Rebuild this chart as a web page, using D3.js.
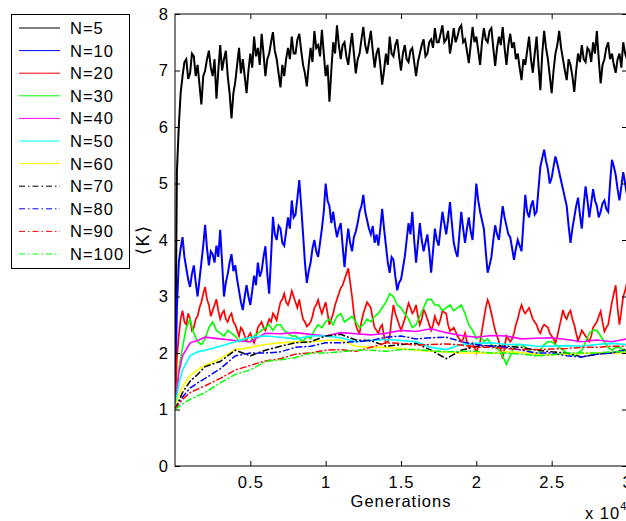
<!DOCTYPE html>
<html>
<head>
<meta charset="utf-8">
<script src="https://cdn.jsdelivr.net/npm/d3@7"></script>
<style>
  body { margin: 0; background: #fff; }
  text { font-family: "Liberation Sans", Arial, Helvetica, sans-serif; letter-spacing: 1px; }
</style>
</head>
<body>
<script>
// sample grids (generations): noisy runs every 125 / 250, smooth runs coarser
const genDense = d3.range(0, 30001, 125);
const genFine = d3.range(0, 30001, 250);
const genCoarse = [0, 250, 500, 1000, 1500, 2000, 3000, 4000, 5000, 6000, 7000, 8000, 9000, 10000,
  11000, 12000, 13000, 14000, 15000, 16000, 17000, 18000, 19000, 20000, 21000, 22000, 23000,
  24000, 25000, 26000, 27000, 28000, 29000, 30000];

const labels = ["N=5", "N=10", "N=20", "N=30", "N=40", "N=50", "N=60", "N=70", "N=80", "N=90", "N=100"];
const colors = ["#000000", "#0000ff", "#ff0000", "#00ff00", "#ff00ff", "#00ffff", "#ffff00",
  "#000000", "#0000ff", "#ff0000", "#00ff00"];
const dashed = [false, false, false, false, false, false, false, true, true, true, true];

const k5 = [1.0, 5.2, 6.0, 6.6, 6.9, 7.15, 7.2, 6.85, 6.95, 7.3, 7.25, 6.9, 7.1, 6.75, 6.4, 6.9,
  7.0, 7.2, 7.35, 7.05, 6.9, 7.2, 6.5, 7.0, 7.45, 7.0, 7.2, 7.35, 6.9, 6.6, 6.15, 6.6, 6.8, 7.1,
  7.4, 6.95, 7.2, 6.9, 6.6, 7.0, 7.3, 7.05, 7.6, 7.25, 7.4, 7.1, 7.65, 7.3, 6.9, 7.2, 7.3, 7.5,
  7.68, 7.35, 7.2, 6.95, 6.7, 7.1, 6.9, 7.2, 7.4, 7.2, 7.6, 7.3, 7.3, 7.55, 7.65, 7.35, 7.1,
  6.95, 6.72, 7.1, 7.4, 7.15, 7.7, 7.4, 7.45, 7.25, 7.72, 7.3, 6.9, 7.1, 6.45, 7.0, 7.5, 7.3,
  7.8, 7.45, 7.2, 7.45, 7.5, 7.25, 7.1, 7.4, 7.66, 7.3, 6.95, 7.2, 7.3, 7.55, 7.77, 7.45, 7.3,
  7.5, 7.7, 7.35, 7.05, 7.3, 7.4, 7.1, 6.75, 7.0, 7.3, 7.1, 7.6, 7.3, 7.25, 7.45, 7.55, 7.25,
  7.0, 7.3, 7.45, 7.2, 7.15, 7.35, 7.4, 7.15, 6.9, 7.15, 7.3, 7.45, 7.55, 7.25, 7.3, 7.5, 7.55,
  7.4, 7.75, 7.5, 7.5, 7.65, 7.8, 7.5, 7.55, 7.7, 7.3, 7.5, 7.75, 7.5, 7.6, 7.75, 7.8, 7.5,
  7.55, 7.35, 7.13, 7.45, 7.77, 7.5, 7.6, 7.35, 7.1, 7.5, 7.75, 7.55, 7.5, 7.7, 7.75, 7.4, 7.08,
  7.4, 7.6, 7.45, 7.77, 7.4, 7.1, 7.45, 7.65, 7.4, 7.5, 7.2, 7.3, 7.05, 6.83, 7.2, 7.1, 7.35,
  7.6, 7.2, 6.96, 7.3, 7.6, 7.1, 6.65, 7.3, 7.7, 7.4, 7.2, 6.9, 6.6, 7.0, 7.3, 7.45, 7.7, 7.4,
  7.2, 7.0, 6.83, 7.2, 7.1, 6.9, 6.62, 7.0, 7.3, 7.15, 7.45, 7.2, 7.15, 7.4, 7.35, 7.15, 7.5,
  7.3, 7.7, 7.2, 6.77, 7.1, 7.2, 7.4, 7.5, 7.2, 7.3, 7.1, 6.96, 7.2, 7.3, 7.05, 7.5, 7.3, 7.2];

const k10 = [1.0, 2.8, 3.6, 3.85, 4.05, 3.7, 3.5, 3.3, 3.17, 3.4, 3.55, 3.25, 3.0, 3.3, 3.6, 3.9,
  4.27, 3.85, 3.55, 3.8, 3.75, 3.6, 3.9, 3.7, 4.18, 3.6, 3.0, 3.25, 3.4, 3.6, 3.75, 3.45, 3.55,
  3.3, 3.1, 2.9, 2.76, 3.0, 3.2, 3.0, 2.85, 3.1, 3.37, 3.2, 3.6, 3.35, 3.45, 3.7, 3.89, 3.4,
  3.05, 3.7, 4.41, 4.1, 4.0, 4.25, 4.2, 3.95, 3.9, 4.15, 4.4, 4.2, 4.7, 4.4, 4.45, 4.75, 5.06,
  4.6, 4.1, 3.6, 3.24, 3.45, 3.6, 3.85, 4.0, 3.8, 3.7, 3.95, 4.2, 4.5, 5.0, 4.7, 4.6, 4.3, 4.5,
  4.25, 4.05, 4.2, 4.3, 3.9, 3.52, 3.9, 4.2, 3.95, 3.8, 4.05, 4.15, 4.3, 4.5, 4.6, 4.8, 4.5,
  4.35, 4.2, 4.1, 4.25, 3.95, 4.1, 3.9, 4.2, 4.55, 4.2, 3.9, 3.6, 3.42, 3.7, 3.65, 3.35, 3.11,
  3.25, 3.3, 3.5, 3.7, 4.0, 4.3, 4.1, 4.5, 4.0, 3.6, 3.95, 4.3, 4.0, 3.8, 3.95, 4.1, 3.8, 3.42,
  3.8, 4.2, 4.0, 3.9, 4.2, 4.5, 4.3, 4.1, 4.35, 4.67, 4.3, 3.95, 3.8, 3.7, 4.1, 4.5, 4.2, 3.95,
  4.2, 4.4, 4.15, 4.0, 4.5, 5.0, 4.7, 4.5, 4.35, 4.2, 3.8, 3.42, 3.55, 3.7, 4.0, 4.26, 4.1, 4.0,
  4.3, 4.6, 4.4, 4.25, 4.1, 4.05, 3.85, 3.65, 3.85, 4.0, 3.9, 3.8, 4.3, 4.8, 4.5, 4.4, 4.6, 4.7,
  4.45, 4.5, 4.9, 5.3, 5.45, 5.6, 5.4, 5.25, 5.0, 5.1, 5.3, 5.48, 5.35, 5.2, 5.05, 4.9, 4.75,
  4.6, 4.25, 3.95, 4.2, 4.4, 4.6, 4.75, 4.45, 4.2, 4.6, 4.95, 4.7, 4.4, 4.65, 4.9, 4.7, 4.6,
  4.4, 4.5, 4.65, 4.7, 4.55, 4.5, 5.0, 5.42, 5.3, 5.15, 4.9, 4.7, 4.95, 5.2, 5.0, 4.8];

const k20 = [1.0, 1.9, 2.3, 2.6, 2.75, 2.55, 2.5, 2.7, 2.6, 2.4, 2.45, 2.6, 2.65, 2.8, 2.9, 3.05,
  3.17, 2.95, 2.85, 2.65, 2.75, 2.85, 2.95, 2.75, 2.6, 2.7, 2.75, 2.6, 2.55, 2.65, 2.7, 2.55,
  2.5, 2.4, 2.3, 2.45, 2.4, 2.3, 2.23, 2.3, 2.35, 2.25, 2.18, 2.3, 2.45, 2.5, 2.55, 2.45, 2.4,
  2.5, 2.6, 2.55, 2.7, 2.65, 2.58, 2.75, 2.9, 2.95, 3.05, 2.9, 2.85, 2.95, 3.1, 3.0, 2.9, 2.8,
  2.95, 2.75, 2.6, 2.55, 2.47, 2.5, 2.55, 2.65, 2.8, 2.85, 2.94, 2.8, 2.7, 2.8, 2.9, 2.7, 2.5,
  2.6, 2.7, 2.85, 2.95, 3.05, 3.15, 3.2, 3.3, 3.4, 3.5, 3.25, 3.0, 2.7, 2.5, 2.4, 2.35, 2.55,
  2.7, 2.8, 2.9, 2.85, 2.8, 2.6, 2.45, 2.4, 2.35, 2.45, 2.5, 2.3, 2.18, 2.2, 2.3, 2.6, 2.85,
  2.7, 2.6, 2.5, 2.4, 2.5, 2.6, 2.75, 2.88, 2.8, 2.7, 2.75, 2.85, 2.65, 2.5, 2.6, 2.77, 2.7,
  2.6, 2.5, 2.4, 2.5, 2.65, 2.55, 2.5, 2.6, 2.75, 2.72, 2.7, 2.5, 2.39, 2.42, 2.45, 2.38, 2.3,
  2.25, 2.2, 2.25, 2.35, 2.2, 2.1, 2.15, 2.18, 2.1, 2.0, 2.1, 2.2, 2.4, 2.6, 2.8, 2.94, 2.85,
  2.7, 2.55, 2.4, 2.3, 2.2, 2.05, 1.9, 2.1, 2.3, 2.25, 2.2, 2.25, 2.35, 2.5, 2.6, 2.75, 2.85,
  2.75, 2.7, 2.75, 2.8, 2.7, 2.6, 2.55, 2.5, 2.4, 2.35, 2.45, 2.5, 2.48, 2.45, 2.35, 2.3, 2.25,
  2.17, 2.3, 2.45, 2.6, 2.76, 2.65, 2.6, 2.7, 2.75, 2.6, 2.5, 2.35, 2.22, 2.3, 2.4, 2.35, 2.3,
  2.25, 2.2, 2.3, 2.45, 2.5, 2.55, 2.65, 2.74, 2.55, 2.38, 2.45, 2.5, 2.7, 2.9, 3.05, 3.2, 2.8,
  2.5, 2.75, 3.0, 3.1, 3.25];

const k30 = [1.0, 1.7, 2.1, 2.45, 2.6, 2.35, 2.2, 2.15, 2.25, 2.45, 2.55, 2.4, 2.35, 2.3, 2.4,
  2.35, 2.3, 2.2, 2.25, 2.2, 2.2, 2.3, 2.35, 2.4, 2.45, 2.5, 2.4, 2.5, 2.5, 2.4, 2.35, 2.3, 2.3,
  2.25, 2.2, 2.3, 2.25, 2.4, 2.5, 2.45, 2.55, 2.6, 2.5, 2.65, 2.7, 2.55, 2.6, 2.65, 2.55, 2.45,
  2.5, 2.6, 2.55, 2.65, 2.7, 2.8, 2.9, 3.05, 3.0, 2.85, 2.8, 2.7, 2.6, 2.45, 2.5, 2.65, 2.8,
  2.95, 2.95, 2.85, 2.85, 2.75, 2.8, 2.85, 2.75, 2.8, 2.85, 2.7, 2.5, 2.4, 2.25, 2.3, 2.2, 2.25,
  2.15, 2.1, 2.05, 1.95, 1.8, 1.95, 2.1, 2.15, 2.15, 2.1, 2.05, 1.98, 1.95, 2.05, 2.15, 2.2, 2.2,
  2.15, 2.1, 2.05, 2.0, 1.98, 1.95, 2.0, 2.05, 2.2, 2.35, 2.4, 2.4, 2.3, 2.2, 2.1, 2.05, 2.1,
  2.1, 2.05, 2.05];

const k40 = [1.0, 1.65, 1.95, 2.18, 2.22, 2.28, 2.25, 2.22, 2.2, 2.35, 2.34, 2.36, 2.33, 2.3,
  2.36, 2.34, 2.32, 2.35, 2.4, 2.38, 2.43, 2.36, 2.31, 2.28, 2.31, 2.3, 2.25, 2.26, 2.27, 2.24,
  2.2, 2.23, 2.2, 2.25];
const k50 = [1.0, 1.45, 1.7, 1.95, 2.02, 2.05, 2.12, 2.2, 2.28, 2.3, 2.28, 2.25, 2.3, 2.3, 2.27,
  2.2, 2.22, 2.24, 2.22, 2.2, 2.1, 2.06, 2.15, 2.17, 2.18, 2.15, 2.15, 2.12, 2.12, 2.13, 2.12,
  2.15, 2.17, 2.15];
const k60 = [1.0, 1.25, 1.4, 1.6, 1.7, 1.78, 1.9, 2.06, 2.1, 2.15, 2.18, 2.2, 2.2, 2.22, 2.23,
  2.12, 2.1, 2.1, 2.08, 2.05, 2.03, 2.02, 2.0, 2.0, 1.99, 2.02, 2.01, 1.98, 1.97, 1.98, 1.99, 2.0,
  2.0, 2.0];
const k70 = [1.0, 1.15, 1.3, 1.5, 1.62, 1.76, 1.85, 2.05, 1.95, 2.05, 2.12, 2.18, 2.2, 2.3, 2.33,
  2.23, 2.22, 2.12, 2.15, 2.17, 2.05, 1.9, 2.05, 2.12, 2.13, 2.12, 2.1, 2.05, 2.02, 2.0, 1.93,
  1.98, 2.0, 2.07];
const k80 = [1.0, 1.12, 1.22, 1.38, 1.47, 1.55, 1.72, 1.95, 2.0, 2.0, 2.02, 2.1, 2.12, 2.18, 2.18,
  2.2, 2.22, 2.28, 2.3, 2.25, 2.27, 2.28, 2.2, 2.15, 2.12, 2.1, 2.05, 2.0, 2.0, 1.95, 1.93, 1.98,
  2.0, 2.05];
const k90 = [1.0, 1.1, 1.18, 1.3, 1.36, 1.42, 1.55, 1.7, 1.78, 1.86, 1.9, 1.98, 2.0, 2.05, 2.06,
  2.03, 2.1, 2.18, 2.17, 2.14, 2.15, 2.16, 2.14, 2.1, 2.1, 2.08, 2.06, 2.06, 2.07, 2.08, 2.1, 2.1,
  2.12, 2.12];
const k100 = [1.0, 1.05, 1.1, 1.18, 1.24, 1.3, 1.47, 1.62, 1.7, 1.85, 1.88, 1.92, 2.0, 2.0, 2.02,
  2.05, 2.05, 2.03, 2.06, 2.06, 2.04, 2.02, 2.03, 2.03, 2.0, 2.0, 1.98, 1.95, 1.97, 2.0, 2.0, 2.0,
  2.02, 2.02];

const seriesVals = [k5, k10, k20, k30, k40, k50, k60, k70, k80, k90, k100];
const seriesGens = [genDense, genDense, genDense, genFine, genCoarse, genCoarse, genCoarse,
  genCoarse, genCoarse, genCoarse, genCoarse];
const widths = [2, 2, 1.7, 1.6, 1.6, 1.6, 1.6, 1.5, 1.5, 1.5, 1.5];

const xTicks = [5000, 10000, 15000, 20000, 25000, 30000];
const yTicks = [0, 1, 2, 3, 4, 5, 6, 7, 8];

const W = 626, H = 521;
const mLeft = 175, mRight = 627, mTop = 14, mBottom = 466;

const svg = d3.select("body").append("svg")
  .attr("width", W)
  .attr("height", H);

const x = d3.scaleLinear().domain([0, 30000]).range([mLeft, mRight]);
const y = d3.scaleLinear().domain([0, 8]).range([mBottom, mTop]);

const plot = svg.append("g");
plot.append("clipPath").attr("id", "clip")
  .append("rect").attr("x", mLeft).attr("y", mTop).attr("width", mRight - mLeft).attr("height", mBottom - mTop);

const line = d3.line().x(d => x(d[0])).y(d => y(d[1]));

seriesVals.forEach((vals, i) => {
  const g = seriesGens[i];
  const pts = vals.map((v, j) => [g[j], v]).filter(d => d[0] !== undefined);
  plot.append("path")
    .datum(pts)
    .attr("clip-path", "url(#clip)")
    .attr("fill", "none")
    .attr("stroke", colors[i])
    .attr("stroke-width", widths[i])
    .attr("stroke-linejoin", "miter")
    .attr("stroke-dasharray", dashed[i] ? "7,2,2,2" : null)
    .attr("d", line);
});

// axes, MATLAB style: ticks inside on all four sides
const fmt = d => String(d / 10000);
svg.append("g")
  .attr("transform", `translate(0,${mBottom})`)
  .call(d3.axisBottom(x).tickValues(xTicks).tickFormat(fmt).tickSizeInner(-5).tickSizeOuter(0).tickPadding(10))
  .call(g => g.select(".domain").remove());
svg.append("g")
  .attr("transform", `translate(0,${mTop})`)
  .call(d3.axisTop(x).tickValues(xTicks).tickFormat("").tickSizeInner(-5).tickSizeOuter(0))
  .call(g => g.select(".domain").remove());
svg.append("g")
  .attr("transform", `translate(${mLeft},0)`)
  .call(d3.axisLeft(y).tickValues(yTicks).tickSizeInner(-5).tickSizeOuter(0).tickPadding(6))
  .call(g => g.select(".domain").remove());
svg.append("g")
  .attr("transform", `translate(${mRight},0)`)
  .call(d3.axisRight(y).tickValues(yTicks).tickFormat("").tickSizeInner(-5).tickSizeOuter(0))
  .call(g => g.select(".domain").remove());

svg.selectAll(".tick text")
  .attr("font-size", 16.5)
  .attr("fill", "#000")
  .style("font-family", "'Liberation Sans', Arial, sans-serif");
svg.selectAll(".tick line").attr("stroke", "#000");

svg.append("rect")
  .attr("x", mLeft).attr("y", mTop)
  .attr("width", mRight - mLeft).attr("height", mBottom - mTop)
  .attr("fill", "none").attr("stroke", "#000").attr("stroke-width", 1);

svg.append("text")
  .attr("x", 401).attr("y", 507)
  .attr("text-anchor", "middle")
  .attr("font-size", 16.5)
  .text("Generations");

const ex = svg.append("text")
  .attr("x", 585).attr("y", 519)
  .attr("font-size", 16.5);
ex.append("tspan").text("x 10");
ex.append("tspan").attr("dy", -9).attr("font-size", 11).text("4");

svg.append("text")
  .attr("transform", "translate(149,240) rotate(-90)")
  .attr("text-anchor", "middle")
  .attr("font-size", 18)
  .text("\u27E8K\u27E9");

// legend
const leg = svg.append("g");
leg.append("rect")
  .attr("x", 11.5).attr("y", 14.5)
  .attr("width", 118).attr("height", 254)
  .attr("fill", "#fff").attr("stroke", "#000");
labels.forEach((lab, i) => {
  const cy = 28 + i * 22.6;
  leg.append("line")
    .attr("x1", 19).attr("x2", 60)
    .attr("y1", cy).attr("y2", cy)
    .attr("stroke", colors[i])
    .attr("stroke-width", 1)
    .attr("stroke-dasharray", dashed[i] ? "6,3,1.5,3" : null);
  leg.append("text")
    .attr("x", 70).attr("y", cy + 6)
    .attr("font-size", 16.5)
    .text(lab);
});
</script>
</body>
</html>
